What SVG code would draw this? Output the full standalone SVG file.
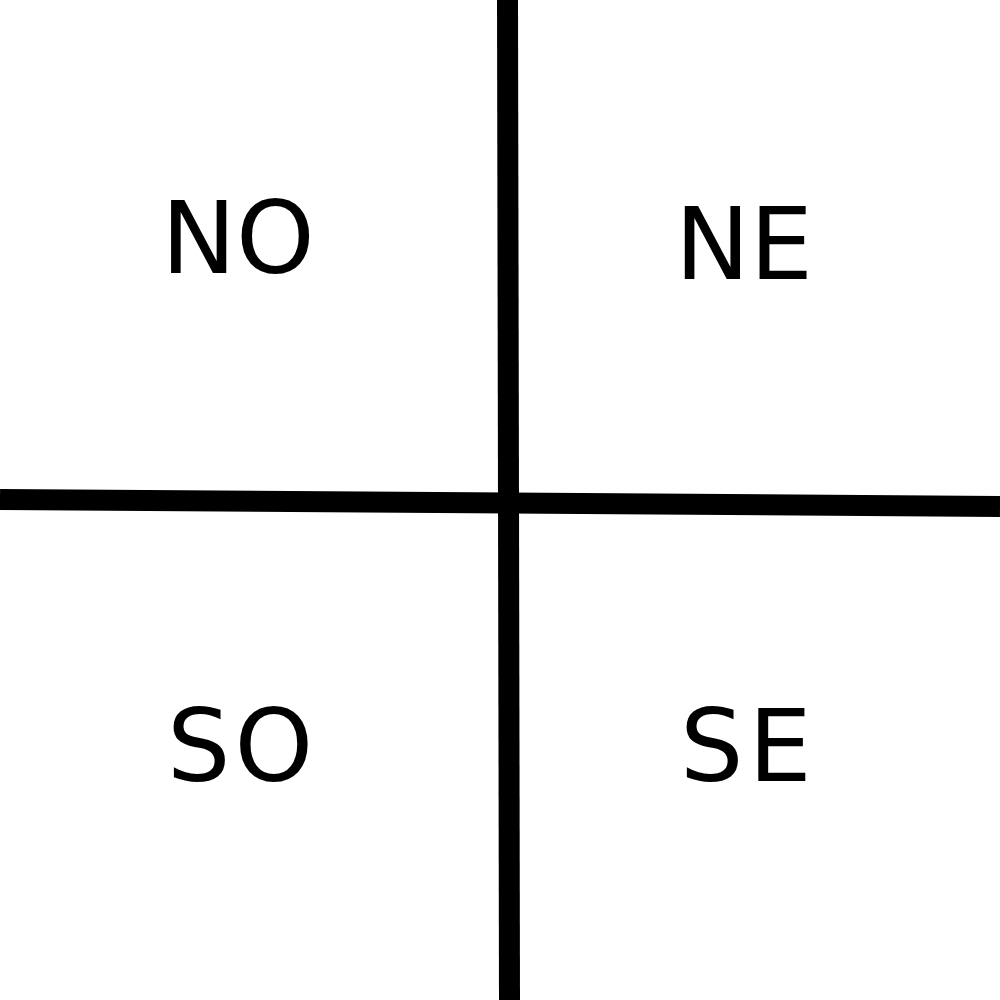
<svg xmlns="http://www.w3.org/2000/svg" width="1000" height="1000" viewBox="0 0 1000 1000">
  <style>
    .lbl { font-family: "DejaVu Sans", "Liberation Sans", sans-serif; font-size: 100px; fill: #000; }
    .axis { stroke: #000; stroke-width: 21; fill: none; }
  </style>
  <rect x="0" y="0" width="1000" height="1000" fill="#fff"/>
  <g id="connectors">
    <line class="axis" x1="507.5" y1="0" x2="509.5" y2="1000"/>
    <line class="axis" x1="0" y1="499.5" x2="1000" y2="506.5"/>
  </g>
  <g id="node-no"><text class="lbl" x="161.3" y="273">NO</text></g>
  <g id="node-ne"><text class="lbl" x="675" y="279">NE</text></g>
  <g id="node-so"><text class="lbl" x="167" y="781" letter-spacing="4">SO</text></g>
  <g id="node-se"><text class="lbl" x="680" y="781" letter-spacing="5">SE</text></g>
</svg>
